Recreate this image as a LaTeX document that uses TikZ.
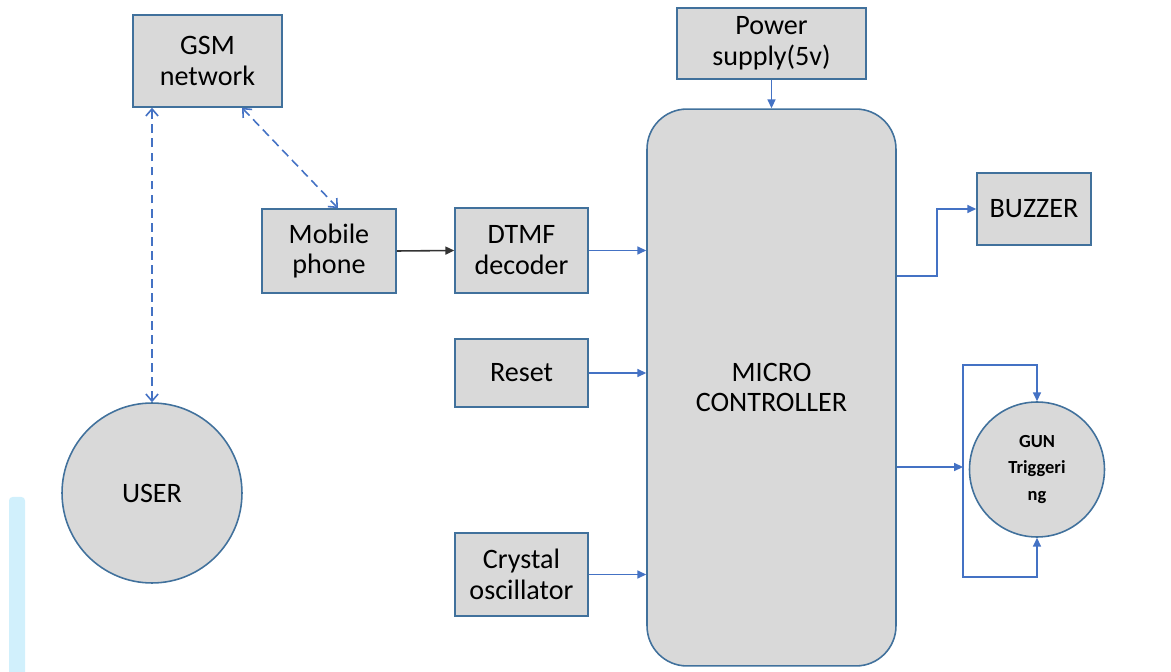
\documentclass[tikz,border=0pt]{standalone}
\usepackage{fontspec}
\setmainfont{Carlito}
\usepackage{tikz}
\usetikzlibrary{calc}
\usetikzlibrary{arrows.meta}

\definecolor{edgeblue}{HTML}{41719C}
\definecolor{arrowblue}{HTML}{4472C4}
\definecolor{boxgray}{HTML}{D9D9D9}

\begin{document}
\begin{tikzpicture}[x=0.02cm,y=-0.02cm]
\useasboundingbox (0,0) rectangle (1171,672);

\tikzset{
    blk/.style={draw=edgeblue,fill=boxgray,line width=0.9pt,align=center,inner sep=1pt,
        font=\fontsize{16}{17.6}\selectfont},
    flow/.style={arrowblue,line width=0.9pt,-{Triangle[length=5pt,width=4.5pt]}},
    link/.style={arrowblue,line width=0.9pt,dashed,dash pattern=on 5pt off 3pt,
        {Straight Barb[length=4pt,width=7pt]}-{Straight Barb[length=4pt,width=7pt]}}
}

% the thin strip at the left edge
\fill[cyan!18,rounded corners=2pt] (9,497) rectangle (25,680);

\coordinate (gsmC) at (207.5,61);
\coordinate (mobC) at (329,251);
\coordinate (dtmfC) at (521.5,250.5);
\coordinate (rstC) at (521.5,373);
\coordinate (xtalC) at (521.5,574.5);
\coordinate (pwrC) at (771.5,43.5);
\coordinate (mcuC) at (771.5,387.5);
\coordinate (bzC) at (1034,209);
\coordinate (userC) at (152,493);
\coordinate (gunC) at (1037,469.5);
\coordinate (bzBend) at (937,276);
\coordinate (gunSplit) at (963,467);
\coordinate (gunTop) at (963,365);
\coordinate (gunBot) at (963,577);

\newcommand{\blocknode}[5]{
    \node[blk,minimum width=#3cm,minimum height=#4cm] (#1) at (#1C) {#5};
}

\newcommand{\feed}[1]{
    \draw[flow] (#1.east) -- (#1.east -| mcu.west);
}

\blocknode{gsm}{gsmC}{2.98}{1.84}{GSM\\network}
\blocknode{mob}{mobC}{2.68}{1.68}{Mobile\\phone}
\blocknode{dtmf}{dtmfC}{2.66}{1.70}{DTMF\\decoder}
\blocknode{rst}{rstC}{2.66}{1.36}{Reset}
\blocknode{xtal}{xtalC}{2.66}{1.66}{Crystal\\oscillator}
\blocknode{pwr}{pwrC}{3.78}{1.42}{Power\\supply(5v)}
\blocknode{bz}{bzC}{2.28}{1.44}{BUZZER}
\node[blk,rounded corners=0.8cm,minimum width=4.98cm,minimum height=11.14cm] (mcu) at (mcuC) {MICRO\\CONTROLLER};
\node[blk,circle,minimum size=3.6cm] (user) at (userC) {USER};
\node[blk,circle,minimum size=2.7cm,font=\fontsize{10.5}{15}\selectfont\bfseries] (gun) at (gunC) {GUN\\Triggeri\\ng};

%links over the air
\draw[link] (user.north) -- (user.north |- gsm.south);
\draw[link] ([xshift=0.69cm]gsm.south) -- ([xshift=0.18cm]mob.north);

\draw[line width=0.9pt,black!80,-{Triangle[length=5pt,width=4.5pt]}] (mob.east) -- (dtmf.west);
\feed{dtmf}
\feed{rst}
\feed{xtal}
\draw[flow] (pwr.south) -- (mcu.north);

\draw[flow] (mcu.east |- bzBend) -- (bzBend) |- (bz.west);
\draw[flow] (mcu.east |- gunSplit) -- (gunSplit);
\draw[flow] (gunSplit) -- (gunTop) -| (gun.north);
\draw[flow] (gunSplit) -- (gunBot) -| (gun.south);
\end{tikzpicture}
\end{document}
